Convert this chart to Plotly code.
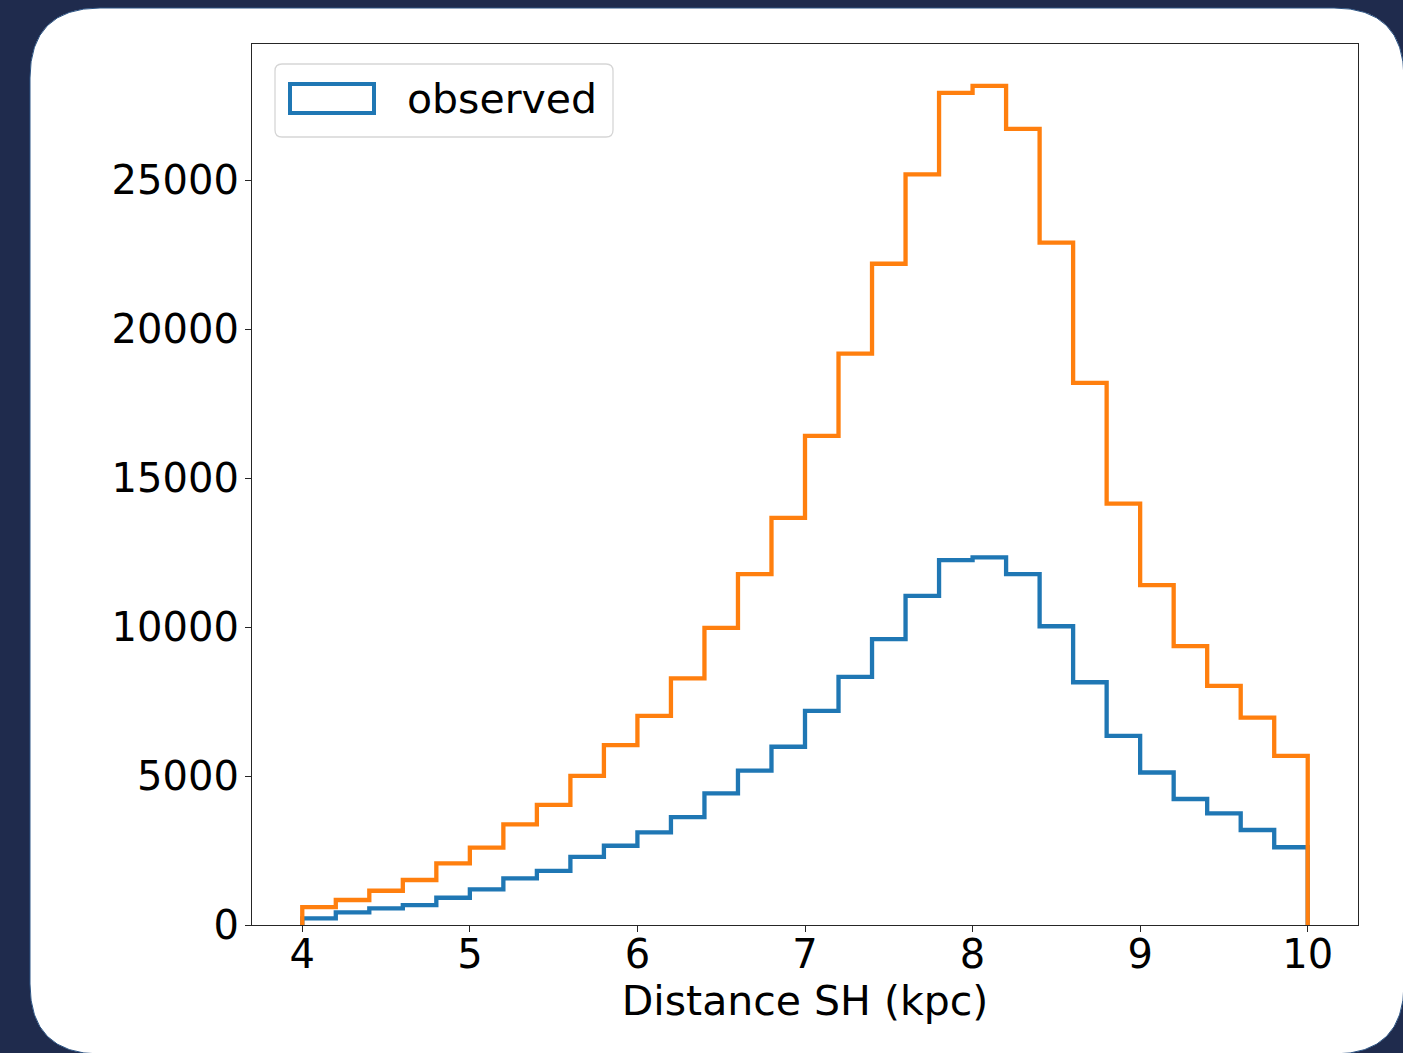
import numpy as np
import plotly.graph_objects as go

# Histogram of source distances, 30 bins of 0.2 kpc between 4 and 10 kpc
bin_start = 4.0
bin_stop = 10.0
n_bins = 30
bin_edges = np.linspace(bin_start, bin_stop, n_bins + 1)

observed_counts = [
    225, 425, 560, 670, 915, 1195, 1565, 1820, 2290, 2660,
    3110, 3620, 4420, 5180, 5985, 7190, 8330, 9600, 11050, 12250,
    12340, 11780, 10030, 8150, 6350, 5120, 4230, 3750, 3190, 2610,
]
total_counts = [
    600, 840, 1150, 1510, 2070, 2595, 3380, 4030, 5010, 6040,
    7020, 8280, 9975, 11780, 13670, 16420, 19180, 22200, 25200, 27940,
    28170, 26730, 22910, 18200, 14150, 11410, 9360, 8030, 6960, 5680,
]

x_ticks = [4, 5, 6, 7, 8, 9, 10]
y_ticks = [0, 5000, 10000, 15000, 20000, 25000]

BLUE = "#1f77b4"
ORANGE = "#ff7f0e"
NAVY = "#1f2b4d"
FONT = "DejaVu Sans"

W, H = 1403, 1053
ML, MR, MT, MB = 252, 45, 44, 128
PW, PH = W - ML - MR, H - MT - MB


def px_x(x):
    return (x - ML) / PW


def px_y(y):
    return (H - MB - y) / PH


def step_outline(edges, counts):
    # outline of a step histogram: rise at the first edge, drop at the last
    xs = [edges[0]] + list(edges[:-1]) + [edges[-1]]
    ys = [0] + list(counts) + [0]
    return xs, ys


def rounded_path(x0, y0, x1, y1, r):
    return (
        f"M {px_x(x0 + r)} {px_y(y0)} L {px_x(x1 - r)} {px_y(y0)} "
        f"Q {px_x(x1)} {px_y(y0)} {px_x(x1)} {px_y(y0 + r)} "
        f"L {px_x(x1)} {px_y(y1 - r)} Q {px_x(x1)} {px_y(y1)} {px_x(x1 - r)} {px_y(y1)} "
        f"L {px_x(x0 + r)} {px_y(y1)} Q {px_x(x0)} {px_y(y1)} {px_x(x0)} {px_y(y1 - r)} "
        f"L {px_x(x0)} {px_y(y0 + r)} Q {px_x(x0)} {px_y(y0)} {px_x(x0 + r)} {px_y(y0)} Z"
    )


fig = go.Figure()
for counts, color in ((observed_counts, BLUE), (total_counts, ORANGE)):
    xs, ys = step_outline(bin_edges, counts)
    fig.add_trace(go.Scatter(
        x=xs, y=ys, mode="lines", line=dict(color=color, width=4.3, shape="hv"),
        showlegend=False, hoverinfo="skip",
    ))

x_pad = 0.05 * (bin_stop - bin_start)
y_top = 1.05 * max(max(total_counts), max(observed_counts))

shapes = [
    # white rounded card behind the chart
    dict(type="path", xref="paper", yref="paper",
         path=rounded_path(30, 8, 1404, 1054, 70),
         fillcolor="white", line=dict(color="#2d5585", width=1), layer="below"),
    # legend frame and patch
    dict(type="path", xref="paper", yref="paper",
         path=rounded_path(275, 64, 613, 137, 7),
         fillcolor="rgba(255,255,255,0.8)", line=dict(color="#d6d6d6", width=1.3)),
    dict(type="rect", xref="paper", yref="paper",
         x0=px_x(290), x1=px_x(374), y0=px_y(84), y1=px_y(113),
         fillcolor="rgba(0,0,0,0)", line=dict(color=BLUE, width=4)),
]

annotations = [dict(
    text="observed", xref="paper", yref="paper", x=px_x(405), y=px_y(99),
    xanchor="left", yanchor="middle", showarrow=False,
    font=dict(family=FONT, size=41, color="black"),
)]

axis_common = dict(
    showgrid=False, zeroline=False, showline=True, mirror=True,
    linecolor="#262626", linewidth=1.3, ticks="outside", ticklen=6,
    tickwidth=1.3, tickcolor="#262626",
    tickfont=dict(family=FONT, size=40, color="black"),
)

fig.update_layout(
    width=W, height=H,
    margin=dict(l=ML, r=MR, t=MT, b=MB, pad=0),
    paper_bgcolor=NAVY, plot_bgcolor="white",
    shapes=shapes, annotations=annotations,
    xaxis=dict(
        range=[bin_start - x_pad, bin_stop + x_pad], tickvals=x_ticks,
        ticktext=[str(t) for t in x_ticks],
        ticklabelstandoff=-12,
        title=dict(text="Distance SH (kpc)", font=dict(family=FONT, size=41, color="black"),
                   standoff=0),
        **axis_common,
    ),
    yaxis=dict(
        range=[0, y_top], tickvals=y_ticks, ticktext=[str(t) for t in y_ticks],
        ticklabelstandoff=-2,
        **axis_common,
    ),
    showlegend=False,
)

fig.write_html("out.html")
